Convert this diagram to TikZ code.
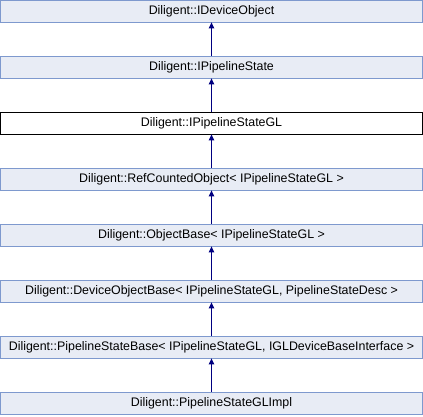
\documentclass[tikz,border=0pt]{standalone}
\usepackage{fontspec}
\setmainfont{Liberation Sans}
\usetikzlibrary{arrows.meta}
\definecolor{boxfill}{HTML}{E8ECF5}
\definecolor{boxline}{HTML}{7E99CE}
\definecolor{arrowcol}{HTML}{000080}
\tikzset{
  cls/.style={draw=boxline, fill=boxfill, line width=0.8pt, minimum width=422pt, minimum height=22pt, inner sep=0pt, font=\fontsize{12.4}{14}\selectfont},
  cur/.style={cls, draw=black, fill=white},
  inh/.style={arrowcol, line width=0.9pt, -{Triangle[width=5.5pt,length=6pt]}}
}
\begin{document}
\begin{tikzpicture}[x=1pt, y=1pt]
        \useasboundingbox (0, 0) rectangle (423, -416);
        \node[cls] at (211.5, -11)(devobj){Diligent::IDeviceObject};
        \node[cls] at (211.5, -67)(pso){Diligent::IPipelineState};
        \node[cur] at (211.5, -123)(psogl){Diligent::IPipelineStateGL};
        \node[cls] at (211.5, -179)(refcnt){Diligent::RefCountedObject< IPipelineStateGL >};
        \node[cls] at (211.5, -235)(objbase){Diligent::ObjectBase< IPipelineStateGL >};
        \node[cls] at (211.5, -291)(devobjbase){Diligent::DeviceObjectBase< IPipelineStateGL, PipelineStateDesc >};
        \node[cls] at (211.5, -347)(psobase){Diligent::PipelineStateBase< IPipelineStateGL, IGLDeviceBaseInterface >};
        \node[cls] at (211.5, -403)(psoimpl){Diligent::PipelineStateGLImpl};

        \path[inh]
        (pso)edge(devobj)
        (psogl)edge(pso)
        (refcnt)edge(psogl)
        (objbase)edge(refcnt)
        (devobjbase)edge(objbase)
        (psobase)edge(devobjbase)
        (psoimpl)edge(psobase)
        ;
    \end{tikzpicture}
\end{document}
